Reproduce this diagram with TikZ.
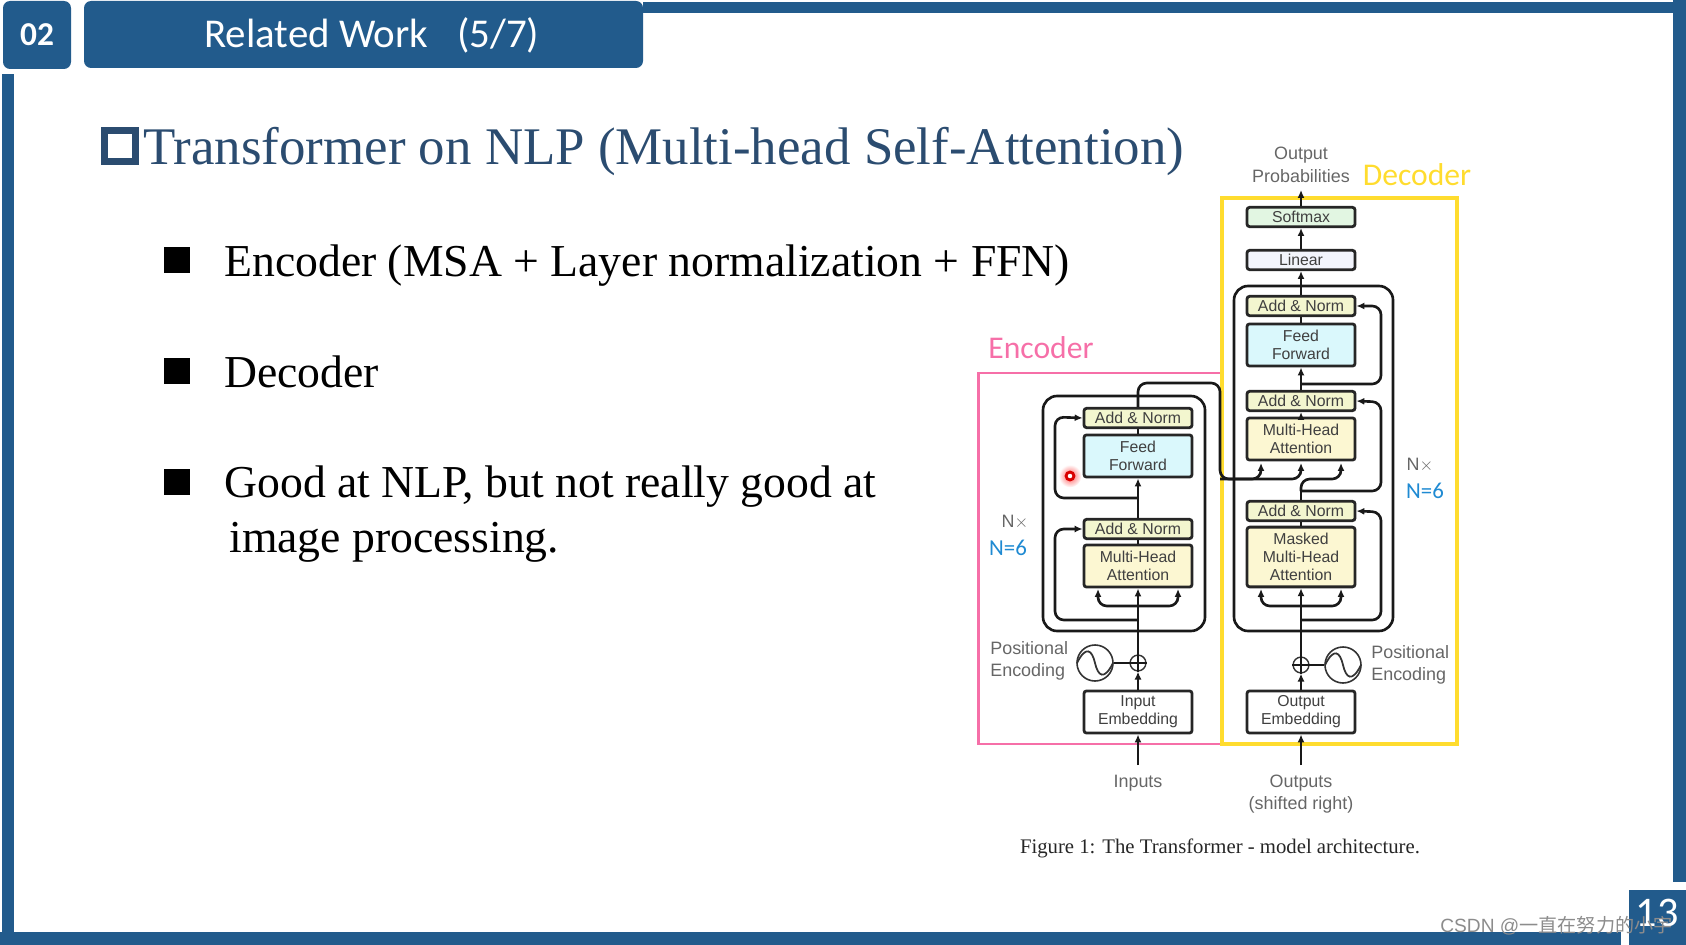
\documentclass[tikz,border=0pt]{standalone}
\usepackage{fontspec}
\setmainfont{Liberation Serif}
\newfontfamily\figfont{Liberation Sans}
\newfontfamily\slidefont{Carlito}
\newfontfamily\cjkfont{Noto Sans CJK SC}
\usetikzlibrary{arrows.meta}
\definecolor{slideblue}{HTML}{225B8C}
\definecolor{headblue}{HTML}{2B4C70}
\definecolor{normfill}{HTML}{F3F6CF}
\definecolor{feedfill}{HTML}{DAF8FC}
\definecolor{attnfill}{HTML}{FCF7D2}
\definecolor{softfill}{HTML}{E2F6E2}
\definecolor{linfill}{HTML}{F2F4FC}
\definecolor{encpink}{HTML}{F66FA8}
\definecolor{decyellow}{HTML}{FFDC2E}
\definecolor{nblue}{HTML}{1F8AD2}
\tikzset{
  block/.style={draw=black!85, line width=1.6pt, rounded corners=1.5pt, minimum width=61.5pt, inner sep=0pt, align=center, font=\figfont\fontsize{9}{10.2}\selectfont, text=black!75},
  slidetext/.style={anchor=west, inner sep=0pt, font=\fontsize{26}{30}\selectfont},
  figlabel/.style={inner sep=0pt, align=center, font=\figfont\fontsize{10.2}{12.8}\selectfont, text=black!60},
  conn/.style={line width=1.5pt, black!90, -{Latex[length=4.5pt,width=4pt]}},
  wire/.style={line width=1.5pt, black!90},
  skip/.style={conn, rounded corners=5pt},
  frame/.style={line width=1.5pt, black!90, rounded corners=8pt},
  bar/.style={fill=slideblue, draw=none},
  bullet/.style={fill=black, draw=none, minimum size=15pt, inner sep=0pt}
}
\begin{document}
\begin{tikzpicture}[x=0.02cm, y=-0.02cm]
  \useasboundingbox (0,0) rectangle (1686,945);

  % slide frame
  \fill[bar] (643,2) rectangle (1686,13);
  \fill[bar] (1673,0) rectangle (1686,882);
  \fill[bar] (2,74) rectangle (14,945);
  \fill[bar] (0,932) rectangle (1621,945);
  \fill[bar] (1629,890) rectangle (1686,945);
  \fill[bar, rounded corners=4pt] (3,1) rectangle (71,69);
  \fill[bar, rounded corners=4pt] (84,1) rectangle (643,68);
  \node[text=white, font=\slidefont\bfseries\fontsize{19}{20}\selectfont] (secnum) at (37,35) {02};
  \node[text=white, anchor=west, inner sep=0pt, font=\slidefont\fontsize{23.3}{25}\selectfont] (sectitle) at (204,35) {Related Work\hspace{0.7em}(5/7)};
  \node[text=white, font=\slidefont\fontsize{24}{26}\selectfont] (pagenum) at (1657,913) {13};

  % heading and list
  \node[draw=headblue, line width=4pt, minimum size=17.5pt, inner sep=0pt] (headbox) at (120,146) {};
  \node[slidetext, text=headblue, font=\fontsize{30.1}{33}\selectfont] (heading) at (143,152) {Transformer on NLP (Multi-head Self-Attention)};
  \node[bullet] (bulleta) at (177,260) {};
  \node[bullet] (bulletb) at (177,371) {};
  \node[bullet] (bulletc) at (177,482) {};
  \node[slidetext] (itema) at (224,266) {Encoder (MSA + Layer normalization + FFN)};
  \node[slidetext] (itemb) at (224,372) {Decoder};
  \node[slidetext] (itemc) at (224,487) {Good at NLP, but not really good at};
  \node[slidetext] (itemd) at (229,542) {image processing.};

  % encoder and decoder regions
  \draw[encpink, line width=1.7pt] (1221,373) -- (978,373) -- (978,744) -- (1221,744);
  \draw[decyellow, line width=1.9pt] (1222,198) rectangle (1457,744);
  \node[text=encpink, font=\slidefont\fontsize{18}{20}\selectfont] (enclabel) at (1041,348) {Encoder};
  \node[text=decyellow, font=\slidefont\fontsize{18}{20}\selectfont] (declabel) at (1417,175) {Decoder};

  % encoder blocks
  \node[block, minimum height=11pt, fill=normfill] (enc_normb) at (1138,418) {Add \& Norm};
  \node[block, minimum height=24pt, fill=feedfill] (enc_feed) at (1138,456) {Feed\\Forward};
  \node[block, minimum height=11pt, fill=normfill] (enc_norma) at (1138,529) {Add \& Norm};
  \node[block, minimum height=24pt, fill=attnfill] (enc_attn) at (1138,566) {Multi-Head\\Attention};
  \node[block, minimum height=24pt, fill=white] (enc_embed) at (1138,712) {Input\\Embedding};
  \node[draw=black!80, line width=0.8pt, circle, minimum size=9pt, inner sep=0pt] (enc_plus) at (1138,663) {};
  \node[draw=black!80, line width=0.9pt, circle, minimum size=20.5pt, inner sep=0pt] (enc_wave) at (1095,663) {};
  \node[figlabel, anchor=west, align=left] (enc_pos) at (990,661) {Positional\\Encoding};
  \node[figlabel] (enc_in) at (1138,783) {Inputs};
  \node[figlabel] (enc_times) at (1015,522) {N$\times$};
  \node[text=nblue, font=\slidefont\fontsize{13}{14}\selectfont] (enc_n) at (1008,548) {N=6};
  \coordinate (enc_start) at (1138,765);
  \coordinate (enc_skipa) at (1138,620);
  \coordinate (enc_split) at (1138,606);
  \coordinate (enc_skipb) at (1138,498);
  \coordinate (enc_turn) at (1220,383);

  % encoder connectors
  \draw[frame] (1043,396) rectangle (1205,631);
  \draw[conn] (enc_start) -- (enc_embed);
  \draw[conn] (enc_embed) -- (enc_plus);
  \draw[conn] (enc_plus) -- (enc_attn);
  \draw[wire] (enc_attn) -- (enc_norma);
  \draw[conn] (enc_norma) -- (enc_feed);
  \draw[wire] (enc_feed) -- (enc_normb);
  \draw[skip] (enc_skipa) -| (1055,529) -- (enc_norma.west);
  \draw[skip] (enc_skipb) -| (1055,417) -- (enc_normb.west);
  \draw[skip] (enc_split) -| (1098,589);
  \draw[skip] (enc_split) -| (1178,589);
  \draw[wire] (enc_wave) -- (enc_plus);
  \draw[wire] (enc_plus.north) -- (enc_plus.south) (enc_plus.west) -- (enc_plus.east);
  \draw[line width=1pt, black!80] (1077,663) .. controls (1086,645) and (1092,650) .. (enc_wave.center) .. controls (1098,676) and (1104,681) .. (1113,663);

  % decoder blocks
  \node[block, minimum height=11pt, fill=softfill] (dec_soft) at (1301,217) {Softmax};
  \node[block, minimum height=11pt, fill=linfill] (dec_lin) at (1301,260) {Linear};
  \node[block, minimum height=11pt, fill=normfill] (dec_normc) at (1301,306) {Add \& Norm};
  \node[block, minimum height=24pt, fill=feedfill] (dec_feed) at (1301,345) {Feed\\Forward};
  \node[block, minimum height=11pt, fill=normfill] (dec_normb) at (1301,401) {Add \& Norm};
  \node[block, minimum height=24pt, fill=attnfill] (dec_attn) at (1301,439) {Multi-Head\\Attention};
  \node[block, minimum height=11pt, fill=normfill] (dec_norma) at (1301,511) {Add \& Norm};
  \node[block, minimum height=34pt, fill=attnfill] (dec_mask) at (1301,557) {Masked\\Multi-Head\\Attention};
  \node[block, minimum height=24pt, fill=white] (dec_embed) at (1301,712) {Output\\Embedding};
  \node[draw=black!80, line width=0.8pt, circle, minimum size=9pt, inner sep=0pt] (dec_plus) at (1301,665) {};
  \node[draw=black!80, line width=0.9pt, circle, minimum size=20.5pt, inner sep=0pt] (dec_wave) at (1343,665) {};
  \node[figlabel, anchor=west, align=left] (dec_pos) at (1371,665) {Positional\\Encoding};
  \node[figlabel] (dec_out) at (1301,794) {Outputs\\(shifted right)};
  \node[figlabel] (dec_prob) at (1301,165) {Output\\Probabilities};
  \node[figlabel] (dec_times) at (1420,465) {N$\times$};
  \node[text=nblue, font=\slidefont\fontsize{13}{14}\selectfont] (dec_n) at (1425,491) {N=6};
  \coordinate (dec_start) at (1301,765);
  \coordinate (dec_skipa) at (1301,620);
  \coordinate (dec_split) at (1301,606);
  \coordinate (dec_skipb) at (1301,491);
  \coordinate (dec_skipc) at (1301,384);
  \coordinate (dec_end) at (1301,190);
  \coordinate (dec_keya) at (1261,463);
  \coordinate (dec_keyb) at (1301,463);
  \coordinate (dec_keyc) at (1341,463);

  % decoder connectors
  \draw[frame] (1234,286) rectangle (1393,631);
  \draw[conn] (dec_start) -- (dec_embed);
  \draw[conn] (dec_embed) -- (dec_plus);
  \draw[conn] (dec_plus) -- (dec_mask);
  \draw[wire] (dec_mask) -- (dec_norma);
  \draw[wire] (dec_norma) -- (dec_skipb);
  \draw[conn] (dec_attn) -- (dec_normb);
  \draw[conn] (dec_normb) -- (dec_feed);
  \draw[wire] (dec_feed) -- (dec_normc);
  \draw[conn] (dec_normc) -- (dec_lin);
  \draw[conn] (dec_lin) -- (dec_soft);
  \draw[conn] (dec_soft) -- (dec_end);
  \draw[skip] (dec_skipa) -| (1381,512) -- (dec_norma.east);
  \draw[skip] (dec_skipb) -| (1381,402) -- (dec_normb.east);
  \draw[skip] (dec_skipc) -| (1381,306) -- (dec_normc.east);
  \draw[skip] (dec_split) -| (1261,589);
  \draw[skip] (dec_split) -| (1341,589);
  \draw[skip] (dec_skipb) |- (1341,479) -- (dec_keyc);
  \draw[wire] (dec_wave) -- (dec_plus);
  \draw[wire] (dec_plus.north) -- (dec_plus.south) (dec_plus.west) -- (dec_plus.east);
  \draw[line width=1pt, black!80] (1325,665) .. controls (1334,647) and (1340,652) .. (dec_wave.center) .. controls (1346,678) and (1352,683) .. (1361,665);

  % encoder output into the decoder
  \draw[skip] (enc_normb) |- (enc_turn) -- (1220,479) -| (dec_keya);
  \draw[skip] (1220,479) -| (dec_keyb);

  % caption, pointer, watermark
  \node[inner sep=0pt, text=black!85, font=\fontsize{11.8}{13}\selectfont] (caption) at (1220,848) {Figure 1: The Transformer - model architecture.};
  \node[circle, inner color=red!65, outer color=white, minimum size=13pt, inner sep=0pt] (glow) at (1070,476) {};
  \node[circle, draw=red!85!black, fill=white, line width=1.6pt, minimum size=4.5pt, inner sep=0pt] (pointer) at (1070,476) {};
  \node[anchor=west, inner sep=0pt, text=black!45, font=\figfont\fontsize{10.9}{12}\selectfont] (watermark) at (1440,926) {CSDN @{\cjkfont 一直在努力的小宇}};
\end{tikzpicture}
\end{document}
